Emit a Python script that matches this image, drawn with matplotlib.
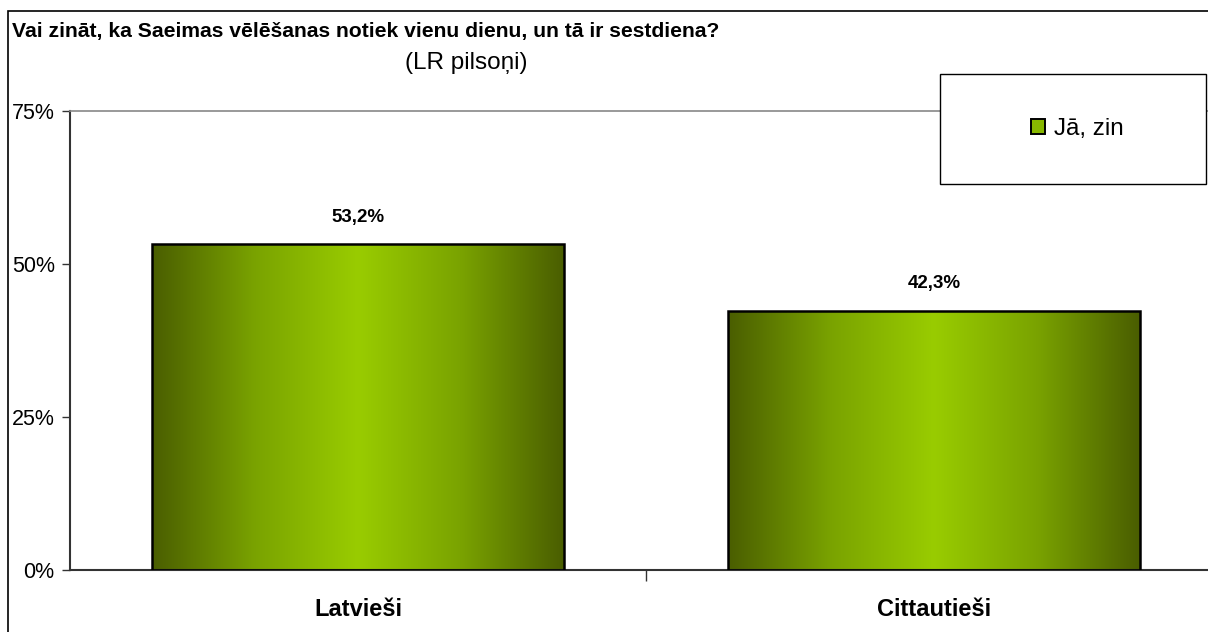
import matplotlib
matplotlib.use("Agg")
import matplotlib.pyplot as plt
import numpy as np
from matplotlib.patches import Rectangle
from matplotlib.colors import LinearSegmentedColormap

plt.rcParams['font.family'] = ['Liberation Sans', 'DejaVu Sans']

title = "Vai zināt, ka Saeimas vēlēšanas notiek vienu dienu, un tā ir sestdiena?"
subtitle = "(LR pilsoņi)"
categories = ["Latvieši", "Cittautieši"]
values = [53.2, 42.3]
value_labels = ["53,2%", "42,3%"]
series_name = "Jā, zin"
yticks = [0, 25, 50, 75]
ytick_labels = ["0%", "25%", "50%", "75%"]

W, H = 1208, 632
fig = plt.figure(figsize=(W / 100, H / 100), dpi=100)

def fx(px):
    return px / W

def fy(py):
    return 1 - py / H

# outer chart border
fig.patches.append(Rectangle((fx(8), fy(700)), fx(1300), fy(11) - fy(700),
                             transform=fig.transFigure, fill=False,
                             edgecolor='black', linewidth=1.2, zorder=0))

ax_left, ax_right = 70, 1222
ax_top, ax_bottom = 111, 570
ax = fig.add_axes([fx(ax_left), fy(ax_bottom), fx(ax_right - ax_left), fy(ax_top) - fy(ax_bottom)])
ax.patch.set_alpha(0)

cmap = LinearSegmentedColormap.from_list("g", ["#4a5e00", "#7aa300", "#99cc00", "#7aa300", "#4a5e00"])
grad = np.linspace(0, 1, 256).reshape(1, -1)
bw = 0.714
x = np.arange(len(categories))
bars = ax.bar(x, values, width=bw, facecolor='none', edgecolor='black', linewidth=1.8, zorder=3)
for b in bars:
    x0, w, h = b.get_x(), b.get_width(), b.get_height()
    ax.imshow(grad, cmap=cmap, aspect='auto', extent=(x0, x0 + w, 0, h), zorder=2, interpolation='bicubic')
ax.set_xlim(-0.5, 1.5)
ax.set_ylim(0, 75)

for xi, v, lab in zip(x, values, value_labels):
    ax.annotate(lab, (xi, v), xytext=(0, 13.5), textcoords='offset points', ha='center', va='bottom',
                fontsize=13.5, fontweight='bold')

ax.set_yticks(yticks)
ax.set_yticklabels(ytick_labels, fontsize=15.5)
ax.set_xticks(x)
ax.set_xticklabels(categories, fontsize=17, fontweight='bold')
ax.tick_params(axis='x', which='major', length=0, pad=20)
ax.set_xticks([0.5], minor=True)
ax.tick_params(axis='x', which='minor', length=8, width=1, color='#333333', direction='out')
ax.tick_params(axis='y', length=6, width=1, color='#333333', direction='out', pad=5)

for s in ['left', 'bottom']:
    ax.spines[s].set_color('#333333')
    ax.spines[s].set_linewidth(1.5)
ax.spines['top'].set_color('#888888')
ax.spines['top'].set_linewidth(1.2)
ax.spines['right'].set_visible(False)

fig.text(fx(12), fy(32), title, fontsize=15.2, fontweight='bold', ha='left', va='center')
fig.text(fx(466), fy(63), subtitle, fontsize=17.5, ha='center', va='center')

# legend box
fig.patches.append(Rectangle((fx(940), fy(184)), fx(266), fy(74) - fy(184),
                             transform=fig.transFigure, facecolor='white',
                             edgecolor='black', linewidth=1.0, zorder=5))
handle = Rectangle((0, 0), 1, 1, facecolor='#88b800', edgecolor='black', linewidth=1.4)
leg = fig.legend([handle], [series_name], loc='center', bbox_to_anchor=(fx(1077), fy(129)),
                 frameon=False, fontsize=17.5, handlelength=0.6, handleheight=0.6, handletextpad=0.35)
leg.set_zorder(6)

fig.savefig("out.png", dpi=100)
